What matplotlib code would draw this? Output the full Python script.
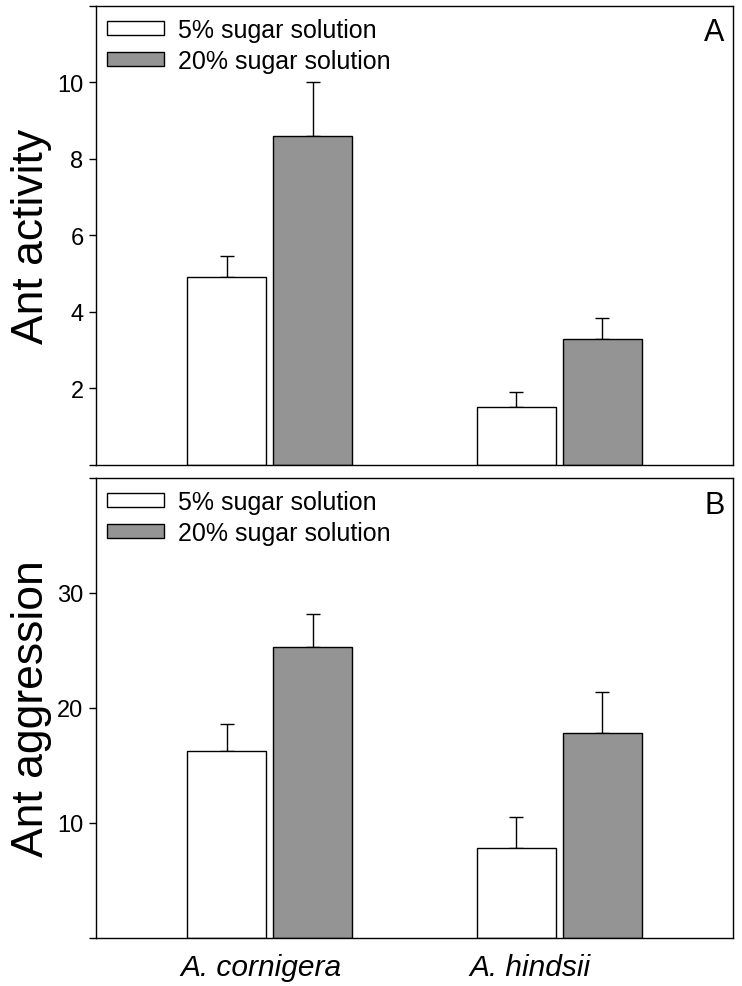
import numpy as np
import matplotlib
matplotlib.use("Agg")
import matplotlib.pyplot as plt

plt.rcParams['font.family'] = ['Liberation Sans', 'DejaVu Sans']

species = ["A. cornigera", "A. hindsii"]
series = ["5% sugar solution", "20% sugar solution"]

# panel A: ant activity (mean, SE)
activity_5 = [4.9, 1.5]
activity_5_se = [0.55, 0.40]
activity_20 = [8.6, 3.3]
activity_20_se = [1.4, 0.54]

# panel B: ant aggression (mean, SE)
aggression_5 = [16.3, 7.8]
aggression_5_se = [2.3, 2.7]
aggression_20 = [25.3, 17.8]
aggression_20_se = [2.9, 3.6]

W, H = 742, 987
fig = plt.figure(figsize=(W / 100, H / 100), dpi=100)

colors = ["white", "#949494"]
bar_w = 0.273
offset = 0.149


def panel(ax, vals, ses, ylim, yticks, ylabel, letter):
    x = np.arange(len(species))
    for i, (v, s) in enumerate(zip(vals, ses)):
        xs = x + (2 * i - 1) * offset
        ax.bar(xs, v, width=bar_w, color=colors[i], edgecolor="black",
               linewidth=1.0, label=series[i], zorder=2)
        ax.errorbar(xs, v, yerr=[np.zeros(len(s)), s], fmt="none",
                    ecolor="black", elinewidth=1.0, capsize=5.3,
                    capthick=1.0, zorder=1)
    ax.set_xlim(-0.6, 1.6)
    ax.set_ylim(*ylim)
    ax.set_yticks(yticks)
    ax.set_yticklabels([str(t) if 0 < t < ylim[1] else "" for t in yticks])
    ax.tick_params(axis="y", direction="out", length=5, width=1.0,
                   labelsize=17, pad=4)
    ax.tick_params(axis="x", length=0)
    for sp in ax.spines.values():
        sp.set_linewidth(1.0)
    leg = ax.legend(loc="upper left", frameon=False, fontsize=18,
                    handlelength=2.28, handleheight=0.45, handletextpad=0.56,
                    labelspacing=0.28, borderpad=0.0, borderaxespad=0.0,
                    bbox_to_anchor=(0.017, 0.974))
    for p in leg.get_patches():
        p.set_linewidth(1.0)
    ax.text(0.987, 0.975, letter, transform=ax.transAxes, ha="right",
            va="top", fontsize=22)
    bb = ax.get_position()
    fig.text(32 / W, (bb.y0 + bb.y1) / 2, ylabel, rotation=90,
             ha="center", va="center", fontsize=32)


ax1 = fig.add_axes([96 / W, 1 - 465.7 / H, 637 / W, 458.7 / H])
panel(ax1, [activity_5, activity_20], [activity_5_se, activity_20_se],
      (0, 12), [0, 2, 4, 6, 8, 10, 12], "Ant activity", "A")
ax1.set_xticks([])

ax2 = fig.add_axes([96 / W, 1 - 939 / H, 637 / W, 460 / H])
panel(ax2, [aggression_5, aggression_20], [aggression_5_se, aggression_20_se],
      (0, 40), [0, 10, 20, 30, 40], "Ant aggression", "B")
ax2.set_xticks([-0.03, 0.9])
ax2.set_xticklabels(species, fontsize=21.5, style="italic")
ax2.tick_params(axis="x", pad=11)

fig.savefig("out.png", dpi=100)
